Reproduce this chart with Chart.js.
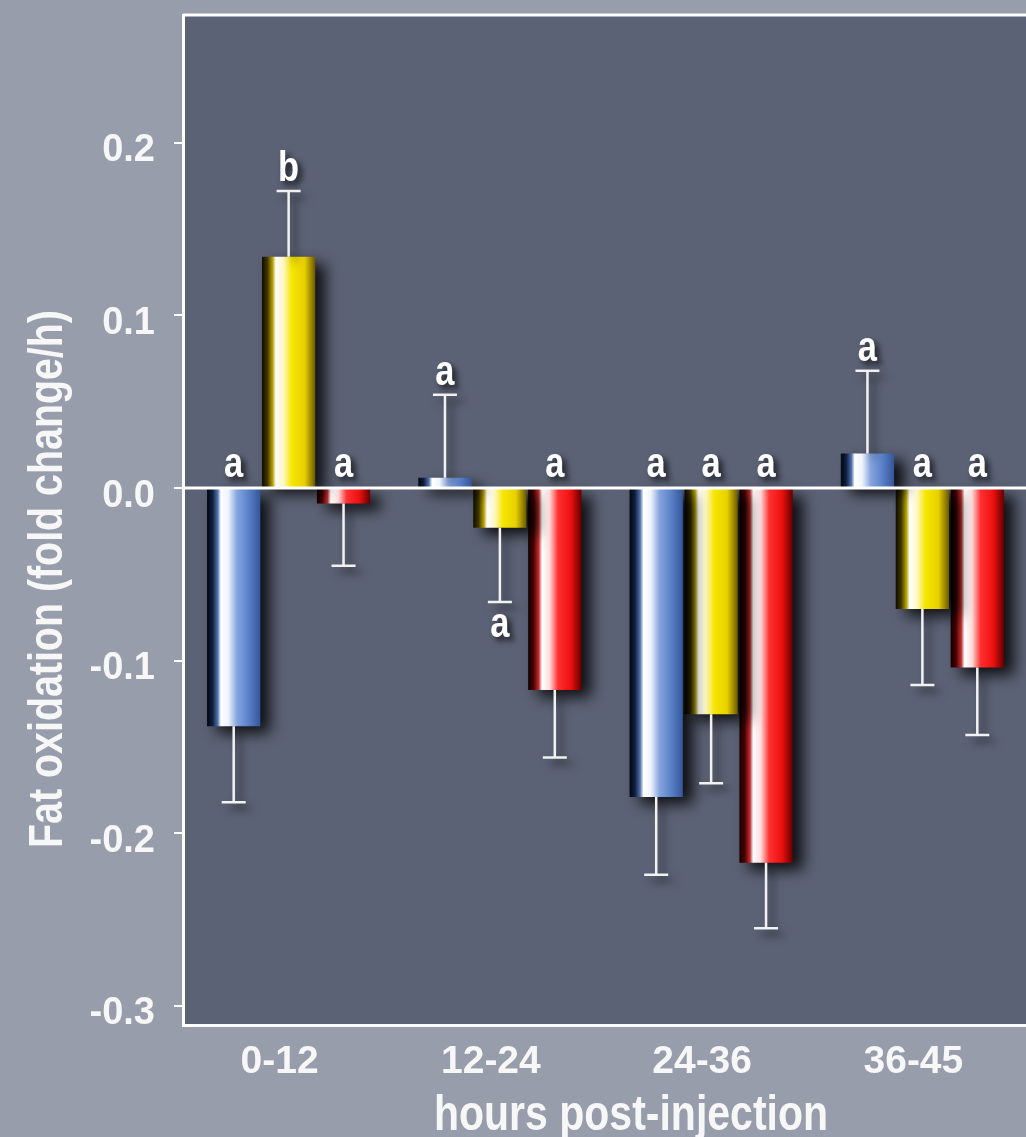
<!DOCTYPE html>
<html>
<head>
<meta charset="utf-8">
<script src="https://cdn.jsdelivr.net/npm/chart.js@4.4.1/dist/chart.umd.min.js"></script>
<style>
  html, body { margin: 0; padding: 0; background: #989dab; overflow: hidden; }
  #wrap { width: 1030px; height: 1137px; position: relative; }
</style>
</head>
<body>
<div id="wrap"><canvas id="chart"></canvas></div>
<script>
// data
const categories = ['0-12', '12-24', '24-36', '36-45'];
const yTicks = [0.2, 0.1, 0.0, -0.1, -0.2, -0.3];

const blueValues = [-0.138, 0.006, -0.179, 0.020];
const blueErrors = [0.044, 0.048, 0.045, 0.048];
const yellowValues = [0.134, -0.023, -0.131, -0.070];
const yellowErrors = [0.038, 0.043, 0.040, 0.044];
const redValues = [-0.009, -0.117, -0.217, -0.104];
const redErrors = [0.036, 0.039, 0.038, 0.039];

const blueLetters = ['a', 'a', 'a', 'a'];
const yellowLetters = ['b', 'a', 'a', 'a'];
const redLetters = ['a', 'a', 'a', 'a'];
// letter goes under the error bar instead of over the zero line
const yellowLetterBelow = [false, true, false, false];

const yTitle = 'Fat oxidation (fold change/h)';
const xTitle = 'hours post-injection';

const FONT = '"Liberation Sans", Arial, sans-serif';
const NARROW = 0.82; // squeeze for the hand-drawn text, the original uses a narrow face
const PLOT_BG = '#5c6275';
const TEXT = '#f7f7f7';

// cylinder shading, left to right
const STOPS = [
  [[0, '#020710'], [0.1, '#0f1e3c'], [0.2, '#5070ac'], [0.26, '#ffffff'], [0.4, '#eef3fc'], [0.56, '#86a5de'], [0.75, '#5f86cc'], [1, '#34569a']],
  [[0, '#0e0c00'], [0.1, '#3e3400'], [0.2, '#b8a200'], [0.26, '#ffffff'], [0.4, '#fff8c4'], [0.56, '#f6e600'], [0.8, '#e8d000'], [1, '#6a5800']],
  [[0, '#100000'], [0.1, '#4a0000'], [0.2, '#c03030'], [0.26, '#ffffff'], [0.4, '#ffdcdc'], [0.56, '#ff3030'], [0.8, '#ec1010'], [1, '#640000']]
];

function narrowText(ctx, text, x, y) {
  ctx.save();
  ctx.translate(x, y);
  ctx.scale(NARROW, 1);
  ctx.fillText(text, 0, 0);
  ctx.restore();
}

const decor = {
  id: 'decor',
  beforeDraw(chart) {
    const { ctx, chartArea: a } = chart;
    ctx.save();
    ctx.fillStyle = PLOT_BG;
    ctx.fillRect(a.left, a.top, a.right - a.left, a.bottom - a.top);
    ctx.restore();
  },
  beforeDatasetsDraw(chart) {
    const ctx = chart.ctx;
    chart.data.datasets.forEach((ds, i) => {
      chart.getDatasetMeta(i).data.forEach(bar => {
        const x0 = bar.x - bar.width / 2;
        const g = ctx.createLinearGradient(x0, 0, x0 + bar.width, 0);
        STOPS[i].forEach(s => g.addColorStop(s[0], s[1]));
        bar.options.backgroundColor = g;
      });
    });
    ctx.save();
    ctx.shadowColor = 'rgba(0,0,0,0.85)';
    ctx.shadowBlur = 14;
    ctx.shadowOffsetX = 10;
    ctx.shadowOffsetY = 7;
  },
  afterDatasetsDraw(chart) {
    const { ctx, chartArea: a } = chart;
    ctx.restore();
    const yScale = chart.scales.y;
    const zero = yScale.getPixelForValue(0);

    // top frame line + zero line
    ctx.save();
    ctx.strokeStyle = '#ffffff';
    ctx.lineWidth = 3;
    ctx.beginPath();
    ctx.moveTo(a.left, a.top);
    ctx.lineTo(a.right + 5, a.top);
    ctx.moveTo(a.left, zero);
    ctx.lineTo(a.right + 5, zero);
    ctx.stroke();
    ctx.restore();

    // error bars
    ctx.save();
    ctx.shadowColor = 'rgba(0,0,0,0.6)';
    ctx.shadowBlur = 8;
    ctx.shadowOffsetX = 6;
    ctx.shadowOffsetY = 6;
    ctx.strokeStyle = '#f2f2f2';
    ctx.lineWidth = 2.5;
    const ends = [];
    chart.data.datasets.forEach((ds, i) => {
      ends[i] = [];
      chart.getDatasetMeta(i).data.forEach((bar, j) => {
        const v = ds.data[j];
        const e = ds.errors[j];
        const yEnd = yScale.getPixelForValue(v >= 0 ? v + e : v - e);
        ends[i][j] = yEnd;
        ctx.beginPath();
        ctx.moveTo(bar.x, bar.y);
        ctx.lineTo(bar.x, yEnd);
        ctx.moveTo(bar.x - 12, yEnd);
        ctx.lineTo(bar.x + 12, yEnd);
        ctx.stroke();
      });
    });
    ctx.restore();

    // significance letters
    ctx.save();
    ctx.shadowColor = 'rgba(0,0,0,0.75)';
    ctx.shadowBlur = 6;
    ctx.shadowOffsetX = 4;
    ctx.shadowOffsetY = 4;
    ctx.fillStyle = '#ffffff';
    ctx.font = 'bold 42px ' + FONT;
    ctx.textAlign = 'center';
    ctx.textBaseline = 'alphabetic';
    chart.data.datasets.forEach((ds, i) => {
      chart.getDatasetMeta(i).data.forEach((bar, j) => {
        const v = ds.data[j];
        let y;
        if (ds.letterBelow && ds.letterBelow[j]) y = ends[i][j] + 35;
        else if (v >= 0) y = ends[i][j] - 10;
        else y = zero - 11;
        narrowText(ctx, ds.letters[j], bar.x, y);
      });
    });
    ctx.restore();
  },
  afterDraw(chart) {
    const ctx = chart.ctx;
    ctx.save();
    ctx.fillStyle = TEXT;
    ctx.textAlign = 'center';
    ctx.textBaseline = 'alphabetic';
    ctx.font = 'bold 50px ' + FONT;
    narrowText(ctx, xTitle, 631, 1130);
    ctx.translate(62, 579);
    ctx.rotate(-Math.PI / 2);
    ctx.font = 'bold 48px ' + FONT;
    narrowText(ctx, yTitle, 0, 0);
    ctx.restore();
  }
};

const barShared = {
  borderWidth: 0,
  categoryPercentage: 0.78,
  barPercentage: 0.97
};

new Chart(document.getElementById('chart'), {
  type: 'bar',
  data: {
    labels: categories,
    datasets: [
      Object.assign({ label: 'blue', data: blueValues, errors: blueErrors, letters: blueLetters,
        backgroundColor: () => '#5b80c6' }, barShared),
      Object.assign({ label: 'yellow', data: yellowValues, errors: yellowErrors, letters: yellowLetters,
        letterBelow: yellowLetterBelow, backgroundColor: () => '#f6e600' }, barShared),
      Object.assign({ label: 'red', data: redValues, errors: redErrors, letters: redLetters,
        backgroundColor: () => '#ff2b2b' }, barShared)
    ]
  },
  options: {
    responsive: true,
    maintainAspectRatio: false,
    animation: false,
    layout: { padding: { top: 15, right: 2, left: 0, bottom: 0 } },
    plugins: { legend: { display: false }, tooltip: { enabled: false } },
    scales: {
      x: {
        grid: { display: false, drawTicks: false },
        border: { color: '#ffffff', width: 3 },
        ticks: {
          color: TEXT,
          font: { family: FONT, size: 39, weight: 'bold' },
          labelOffset: -9,
          padding: 14,
          maxRotation: 0
        },
        afterFit: s => { s.height = 112; s.paddingLeft = 0; s.paddingRight = 0; }
      },
      y: {
        min: -0.311,
        max: 0.274,
        afterBuildTicks: s => { s.ticks = yTicks.map(v => ({ value: v })); },
        grid: { drawOnChartArea: false, drawTicks: true, tickLength: 9, color: '#ffffff', lineWidth: 2 },
        border: { color: '#ffffff', width: 3 },
        ticks: {
          color: TEXT,
          font: { family: FONT, size: 38, weight: 'bold' },
          padding: 19,
          labelOffset: 8,
          callback: v => Number(v).toFixed(1)
        },
        afterFit: s => { s.width = 183; s.paddingTop = 0; s.paddingBottom = 0; }
      }
    }
  },
  plugins: [decor]
});
</script>
</body>
</html>
